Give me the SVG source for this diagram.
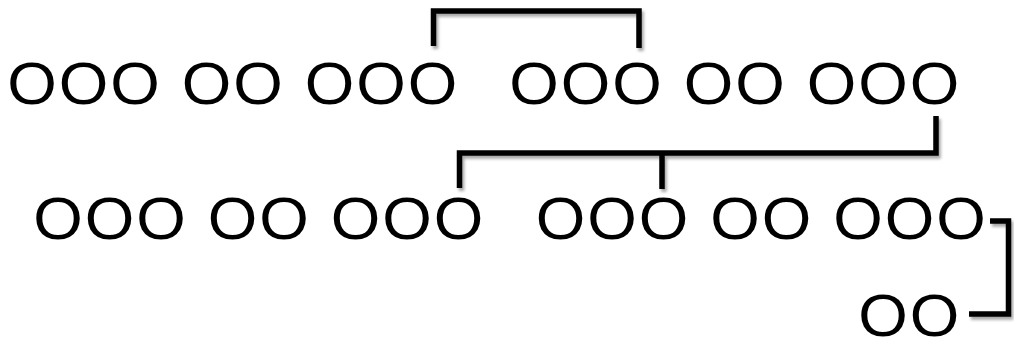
<svg xmlns="http://www.w3.org/2000/svg" width="1014" height="339" viewBox="0 0 1014 339">
<style>
.t{font-family:"Liberation Sans",Arial,sans-serif;font-size:59px;fill:#000}
.c{fill:none;stroke:#000;stroke-width:5.5;stroke-linejoin:miter;stroke-linecap:butt}
</style>
<defs>
<filter id="sh" x="-10%" y="-10%" width="130%" height="130%">
<feDropShadow dx="2" dy="3" stdDeviation="1.5" flood-color="#000" flood-opacity="0.35"/>
</filter>
</defs>
<rect width="1014" height="339" fill="#fff"/>
<g id="connectors" filter="url(#sh)">
<path class="c" d="M433.5,46 V11 H639 V48"/>
<path class="c" d="M936,116 V153 H459.5 V188"/>
<path class="c" d="M662,153 V189"/>
<path class="c" d="M990,221 H1008.5 V314 H969"/>
</g>
<g id="node-r1a"><text class="t" transform="scale(1.08 1)" y="104.3" x="6.68 54.36 102.05 148 168.25 215.94 261.84 282.14 329.83 377.51">OOO OO OOO</text></g>
<g id="node-r1b"><text class="t" transform="scale(1.08 1)" y="104.3" x="471.49 519.18 566.86 612.76 633.07 680.75 726.65 746.96 794.64 842.33">OOO OO OOO</text></g>
<g id="node-r2a"><text class="t" transform="scale(1.08 1)" y="239.3" x="30.75 78.44 126.12 172.02 192.33 240.01 285.91 306.22 353.90 401.59">OOO OO OOO</text></g>
<g id="node-r2b"><text class="t" transform="scale(1.08 1)" y="239.3" x="496.03 543.72 591.40 637.30 657.61 705.29 751.19 771.49 819.18 866.86">OOO OO OOO</text></g>
<g id="node-r3"><text class="t" transform="scale(1.08 1)" y="336.5" x="794.64 842.33">OO</text></g>
</svg>
